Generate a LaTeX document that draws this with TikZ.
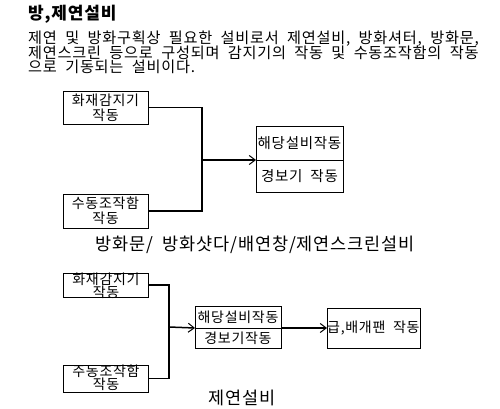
\documentclass[tikz,border=0pt]{standalone}
\usepackage{fontspec}
\setmainfont{Noto Sans CJK KR}[WordSpace=2, LetterSpace=5]
\usetikzlibrary{arrows.meta}
\begin{document}
\begin{tikzpicture}[x=1pt,y=-1pt, font=\fontsize{14}{15}\selectfont,
  box/.style={draw, line width=0.8pt, inner sep=0pt, outer sep=0pt, anchor=north west},
  conn/.style={line width=1.5pt},
  arr/.style={line width=1.5pt, -{Straight Barb[length=6pt,width=9pt,line width=1pt]}},
  txt/.style={inner sep=0pt, align=center},
  para/.style={inner sep=0pt, anchor=base west, font=\fontsize{15.2}{15}\selectfont},
  big/.style={inner sep=0pt, font=\fontsize{17.5}{20}\selectfont},
  tight/.style={inner sep=0pt, align=center, font=\fontsize{14}{13}\selectfont}]
\useasboundingbox (0,0) rectangle (500,409);
% title and paragraph
\node[inner sep=0pt, anchor=base west, font=\bfseries\fontsize{17}{19}\selectfont] (title) at (28,20) {방,제연설비};
\node[para] (p1) at (28,44) {제연 및 방화구획상 필요한 설비로서 제연설비, 방화셔터, 방화문,};
\node[para] (p2) at (28,59) {제연스크린 등으로 구성되며 감지기의 작동 및 수동조작함의 작동};
\node[para] (p3) at (28,73) {으로 기동되는 설비이다.};
% top diagram
\node[box, minimum width=85pt, minimum height=33pt] (b1) at (63,91) {};
\node[txt] (b1t) at (b1.center) {화재감지기\\작동};
\node[box, minimum width=85pt, minimum height=34pt] (b2) at (63,194) {};
\node[txt] (b2t) at (b2.center) {수동조작함\\작동};
\node[box, minimum width=87pt, minimum height=34pt] (r1) at (256,126) {};
\node[txt, font=\fontsize{14.5}{15}\selectfont] (r1t) at (r1.center) {해당설비작동};
\node[box, minimum width=87pt, minimum height=32pt] (r2) at (256,160) {};
\node[txt, font=\fontsize{14.5}{15}\selectfont] (r2t) at (r2.center) {경보기 작동};
\coordinate (j1) at (202,160);
\draw[conn] (b1.east) -| (j1);
\draw[conn] (b2.east) -| (j1);
\draw[arr] (j1) -- (r2.north west);
\node[big] (lab1) at (255,245) {방화문/ 방화샷다/배연창/제연스크린설비};
% bottom diagram
\node[box, minimum width=85pt, minimum height=24pt] (c1) at (63,273) {};
\node[tight] (c1t) at (106,286) {화재감지기\\작동};
\node[box, minimum width=85pt, minimum height=27pt] (c2) at (63,365) {};
\node[tight] (c2t) at (106,378) {주동조작함\\작동};
\node[box, minimum width=86pt, minimum height=22pt] (d1) at (195,306) {};
\node[txt] (d1t) at (d1.center) {해당설비작동};
\node[box, minimum width=86pt, minimum height=20pt] (d2) at (195,328) {};
\node[txt] (d2t) at (d2.center) {경보기작동};
\node[box, minimum width=93pt, minimum height=40pt] (e1) at (327,308) {};
\node[txt, anchor=west, font=\fontsize{14}{15}\selectfont] (e1t) at (327,328) {급,배개팬 작동};
\coordinate (j2) at (169,327);
\draw[conn] (c1.east) -| (j2);
\draw[conn] (c2.east) -| (j2);
\draw[arr] (j2) -- (d2.north west);
\draw[arr] (d2.north east) -- (e1.west);
\node[big] (lab2) at (242,398) {제연설비};
\end{tikzpicture}
\end{document}
